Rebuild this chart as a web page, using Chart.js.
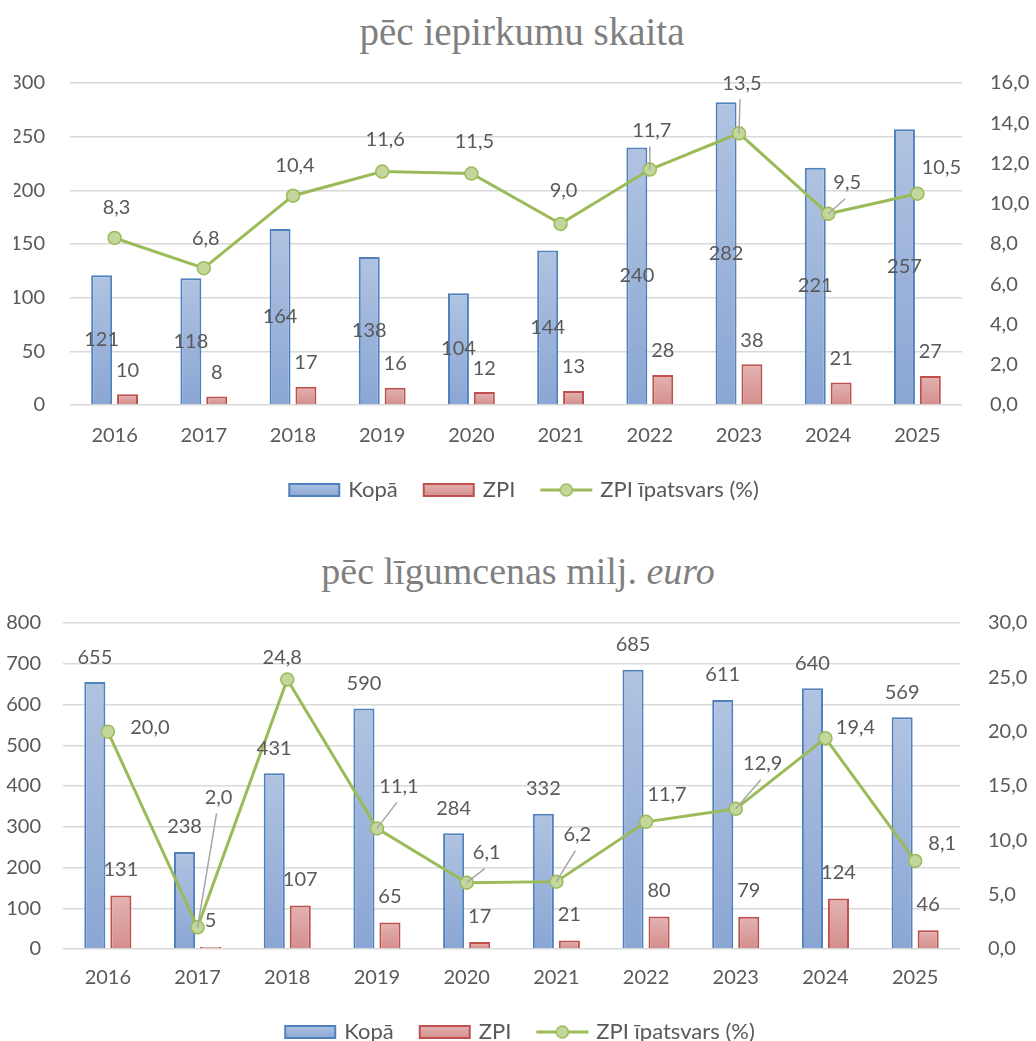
<!DOCTYPE html>
<html>
<head>
<meta charset="utf-8">
<script src="https://cdn.jsdelivr.net/npm/chart.js@4.4.1/dist/chart.umd.min.js"></script>
<style>
  body { margin: 0; background: #fff; width: 1036px; height: 1041px; overflow: hidden; position: relative; }
  .title { position: absolute; left: 0; width: 1036px; text-align: center; font-family: "Liberation Serif", serif; line-height: 40px; color: #7f7f7f; }
  canvas { position: absolute; left: 0; }
</style>
</head>
<body>
<div class="title" style="top:12px; left:4px; font-size:39px">pēc iepirkumu skaita</div>
<canvas id="c1" width="1036" height="511" style="top:0"></canvas>
<div class="title" style="top:551px; font-size:38px">pēc līgumcenas milj. <i>euro</i></div>
<canvas id="c2" width="1036" height="513" style="top:540px"></canvas>
<script>
const years = ['2016', '2017', '2018', '2019', '2020', '2021', '2022', '2023', '2024', '2025'];
const seriesNames = ['Kopā', 'ZPI', 'ZPI īpatsvars (%)'];

// pēc iepirkumu skaita
const countTotal = [121, 118, 164, 138, 104, 144, 240, 282, 221, 257];
const countZpi = [10, 8, 17, 16, 12, 13, 28, 38, 21, 27];
const countShare = [8.3, 6.8, 10.4, 11.6, 11.5, 9.0, 11.7, 13.5, 9.5, 10.5];

// pēc līgumcenas milj. euro
const valueTotal = [655, 238, 431, 590, 284, 332, 685, 611, 640, 569];
const valueZpi = [131, 5, 107, 65, 17, 21, 80, 79, 124, 46];
const valueShare = [20.0, 2.0, 24.8, 11.1, 6.1, 6.2, 11.7, 12.9, 19.4, 8.1];

// label offsets for the % line [dx, dy, leader?]
const countShareLabelPos = [[2,-30],[2,-30],[2,-30],[3,-32],[3,-32],[3,-33],[2,-39,1],[3,-50,1],[19,-31,1],[24,-26]];
const valueShareLabelPos = [[42,-4],[21,-130,1],[-5,-22],[22,-42,1],[20,-30,1],[21,-47,1],[21,-27],[27,-45,1],[30,-11],[27,-17]];

const FONT = 'Lato';
const GREY = '#595959';
const BLUE = { top: '#b0c3e1', bottom: '#8aa6d4', border: '#4f81bd' };
const RED = { top: '#e2b3b2', bottom: '#d48e8c', border: '#c0504d' };
const GREEN = '#9bbb59', GREEN_FILL = '#c3d69b';

const fmt1 = v => v.toFixed(1).replace('.', ',');

function barFill(c) {
  return ctx => {
    const chart = ctx.chart;
    if (!chart.chartArea || ctx.type !== 'data') return c.bottom;
    const y = chart.scales.y;
    const g = chart.ctx.createLinearGradient(0, y.getPixelForValue(ctx.raw), 0, y.getPixelForValue(0));
    g.addColorStop(0, c.top);
    g.addColorStop(1, c.bottom);
    return g;
  };
}

function legendImg(kind) {
  const cv = document.createElement('canvas');
  cv.width = 54; cv.height = 18;
  const g = cv.getContext('2d');
  if (kind === 'line') {
    g.strokeStyle = GREEN; g.lineWidth = 3;
    g.beginPath(); g.moveTo(1, 9); g.lineTo(53, 9); g.stroke();
    g.fillStyle = GREEN_FILL; g.lineWidth = 1.5;
    g.beginPath(); g.arc(27, 9, 6, 0, Math.PI * 2); g.fill(); g.stroke();
  } else {
    const c = kind === 'blue' ? BLUE : RED;
    const gr = g.createLinearGradient(0, 2, 0, 16);
    gr.addColorStop(0, c.top); gr.addColorStop(1, c.bottom);
    g.fillStyle = gr; g.fillRect(2, 3, 50, 12);
    g.strokeStyle = c.border; g.lineWidth = 2; g.strokeRect(2, 3, 50, 12);
  }
  return cv;
}
const legendImgs = [legendImg('blue'), legendImg('red'), legendImg('line')];

const valueLabels = {
  id: 'valueLabels',
  afterDatasetsDraw(chart) {
    const ctx = chart.ctx;
    ctx.save();
    ctx.font = '20px ' + FONT;
    ctx.textAlign = 'center';
    ctx.textBaseline = 'middle';
    chart.data.datasets.forEach((ds, i) => {
      const meta = chart.getDatasetMeta(i);
      const lab = ds.valueLabel;
      meta.data.forEach((el, j) => {
        const v = ds.data[j];
        const text = lab.decimals ? fmt1(v) : String(v);
        let x = el.x, y;
        if (lab.mode === 'center') {
          y = (el.y + el.base) / 2;
        } else if (lab.mode === 'top') {
          y = el.y - lab.offset;
        } else {
          const p = lab.pos[j];
          x += p[0]; y = el.y + p[1];
          if (p[2]) {
            ctx.strokeStyle = '#a6a6a6';
            ctx.lineWidth = 1.5;
            ctx.beginPath();
            ctx.moveTo(x - 2, y + 16);
            ctx.lineTo(el.x, el.y);
            ctx.stroke();
          }
        }
        ctx.fillStyle = GREY;
        ctx.fillText(text, x, y);
      });
    });
    ctx.restore();
  }
};

function makeChart(id, total, zpi, share, opts) {
  return new Chart(document.getElementById(id), {
    type: 'bar',
    data: {
      labels: years,
      datasets: [
        {
          label: seriesNames[0], data: total, yAxisID: 'y', order: 1,
          backgroundColor: barFill(BLUE), borderColor: BLUE.border, borderWidth: 2,
          categoryPercentage: 0.58, barPercentage: 0.81,
          valueLabel: opts.totalLabel
        },
        {
          label: seriesNames[1], data: zpi, yAxisID: 'y', order: 1,
          backgroundColor: barFill(RED), borderColor: RED.border, borderWidth: 2,
          categoryPercentage: 0.58, barPercentage: 0.81,
          valueLabel: { mode: 'top', offset: opts.zpiOffset }
        },
        {
          type: 'line', label: seriesNames[2], data: share, yAxisID: 'y1', order: 0,
          borderColor: GREEN, borderWidth: 3, pointRadius: 6.5, pointBorderWidth: 1.5,
          pointBackgroundColor: GREEN_FILL, pointBorderColor: GREEN,
          valueLabel: { mode: 'pos', pos: opts.sharePos, decimals: true }
        }
      ]
    },
    options: {
      responsive: false,
      animation: false,
      devicePixelRatio: 1,
      layout: { padding: { top: 83, left: opts.padLeft, right: 0, bottom: 0 } },
      plugins: {
        tooltip: { enabled: false },
        legend: {
          position: 'bottom',
          labels: {
            usePointStyle: true,
            pointStyleWidth: 46,
            padding: 28,
            color: GREY,
            font: { family: FONT, size: 22 },
            generateLabels: chart => chart.data.datasets.map((ds, i) => ({
              text: ds.label, pointStyle: legendImgs[i], fontColor: GREY,
              lineWidth: 0, strokeStyle: 'transparent', fillStyle: 'transparent', datasetIndex: i
            }))
          }
        }
      },
      scales: {
        x: {
          grid: { display: false, drawTicks: false }, border: { display: false },
          ticks: { color: GREY, font: { family: FONT, size: 20 }, padding: opts.xPad },
          afterFit: s => { s.height = opts.xHeight; }
        },
        y: {
          position: 'left', min: 0, max: opts.yMax,
          ticks: { stepSize: opts.yStep, color: GREY, font: { family: FONT, size: 20 }, padding: opts.yPad },
          grid: { color: '#d9d9d9', lineWidth: 1.5, drawTicks: false },
          border: { display: false },
          afterFit: s => { s.width = opts.yWidth; }
        },
        y1: {
          position: 'right', min: 0, max: opts.y1Max,
          ticks: { stepSize: opts.y1Step, color: GREY, font: { family: FONT, size: 20 }, padding: 28, callback: v => fmt1(v) },
          grid: { display: false, drawTicks: false },
          border: { display: false },
          afterFit: s => { s.width = opts.y1Width; }
        }
      }
    },
    plugins: [valueLabels]
  });
}

makeChart('c1', countTotal, countZpi, countShare, {
  totalLabel: { mode: 'center' }, zpiOffset: 24, sharePos: countShareLabelPos,
  padLeft: 14, yWidth: 56, yPad: 25, y1Width: 74,
  yMax: 300, yStep: 50, y1Max: 16, y1Step: 2, xPad: 19, xHeight: 46
});
makeChart('c2', valueTotal, valueZpi, valueShare, {
  totalLabel: { mode: 'top', offset: 25 }, zpiOffset: 26, sharePos: valueShareLabelPos,
  padLeft: 6, yWidth: 57, yPad: 22, y1Width: 76,
  yMax: 800, yStep: 100, y1Max: 30, y1Step: 5, xPad: 17, xHeight: 44
});
</script>
</body>
</html>
